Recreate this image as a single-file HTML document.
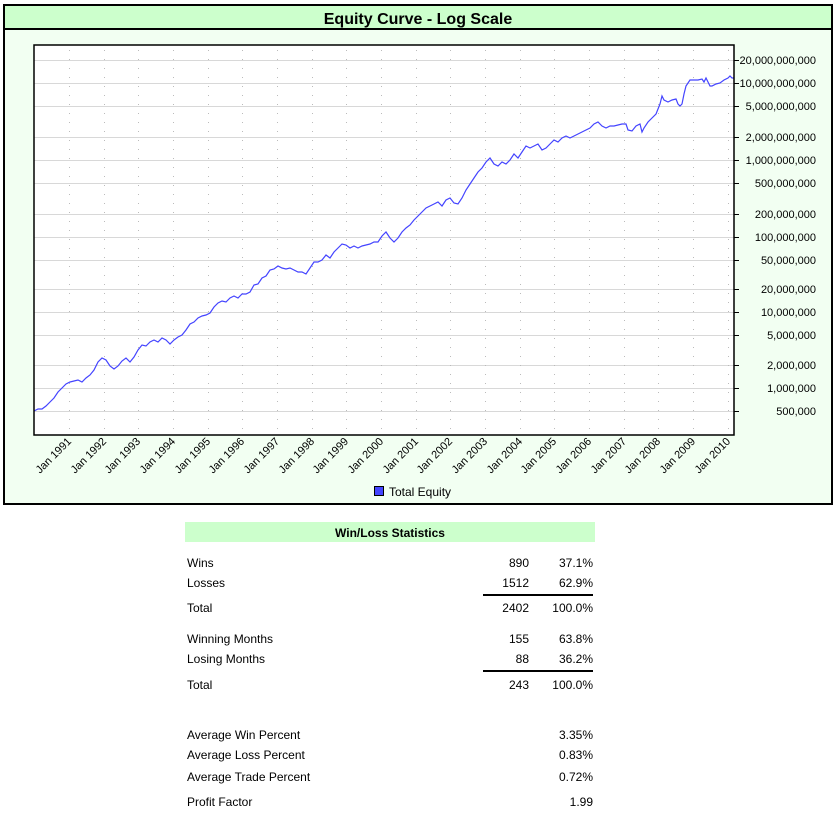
<!DOCTYPE html>
<html><head><meta charset="utf-8"><style>
body{margin:0;background:#fff;width:837px;height:824px;overflow:hidden;font-family:"Liberation Sans",Arial,sans-serif;}
svg text{font-family:"Liberation Sans",Arial,sans-serif;}
</style></head><body>
<svg width="837" height="824" xmlns="http://www.w3.org/2000/svg">
<rect x="4" y="5" width="828" height="499" fill="#f2fff2" stroke="#000" stroke-width="2"/>
<rect x="5" y="6" width="826" height="22" fill="#ccffcc"/>
<line x1="4" y1="29" x2="832" y2="29" stroke="#000" stroke-width="2"/>
<text x="418" y="24" font-size="16" font-weight="bold" text-anchor="middle">Equity Curve - Log Scale</text>
<rect x="34" y="45" width="700" height="390" fill="#fff"/>
<g stroke="#d8d8d8" stroke-width="1">
<line x1="34" x2="734" y1="60.5" y2="60.5"/><line x1="34" x2="734" y1="83.5" y2="83.5"/><line x1="34" x2="734" y1="106.5" y2="106.5"/>
<line x1="34" x2="734" y1="137.5" y2="137.5"/><line x1="34" x2="734" y1="160.5" y2="160.5"/><line x1="34" x2="734" y1="183.5" y2="183.5"/>
<line x1="34" x2="734" y1="214.5" y2="214.5"/><line x1="34" x2="734" y1="237.5" y2="237.5"/><line x1="34" x2="734" y1="260.5" y2="260.5"/>
<line x1="34" x2="734" y1="289.5" y2="289.5"/><line x1="34" x2="734" y1="312.5" y2="312.5"/><line x1="34" x2="734" y1="335.5" y2="335.5"/>
<line x1="34" x2="734" y1="365.5" y2="365.5"/><line x1="34" x2="734" y1="388.5" y2="388.5"/><line x1="34" x2="734" y1="411.5" y2="411.5"/>
</g>
<g stroke="#bbb" stroke-width="1" stroke-dasharray="1,8">
<line x1="69.5" x2="69.5" y1="50" y2="435"/><line x1="104.5" x2="104.5" y1="50" y2="435"/><line x1="138.5" x2="138.5" y1="50" y2="435"/>
<line x1="173.5" x2="173.5" y1="50" y2="435"/><line x1="208.5" x2="208.5" y1="50" y2="435"/><line x1="242.5" x2="242.5" y1="50" y2="435"/>
<line x1="277.5" x2="277.5" y1="50" y2="435"/><line x1="312.5" x2="312.5" y1="50" y2="435"/><line x1="346.5" x2="346.5" y1="50" y2="435"/>
<line x1="381.5" x2="381.5" y1="50" y2="435"/><line x1="416.5" x2="416.5" y1="50" y2="435"/><line x1="450.5" x2="450.5" y1="50" y2="435"/>
<line x1="485.5" x2="485.5" y1="50" y2="435"/><line x1="520.5" x2="520.5" y1="50" y2="435"/><line x1="554.5" x2="554.5" y1="50" y2="435"/>
<line x1="589.5" x2="589.5" y1="50" y2="435"/><line x1="624.5" x2="624.5" y1="50" y2="435"/><line x1="658.5" x2="658.5" y1="50" y2="435"/>
<line x1="693.5" x2="693.5" y1="50" y2="435"/><line x1="728.5" x2="728.5" y1="50" y2="435"/>
</g>
<polyline fill="none" stroke="#4444ff" stroke-width="1.2" points="34,411 38,409 42,409 46,406 50,402 54,398 58,392 62,388 66,384 70,382 74,381 78,380 82,382 86,378 90,375 94,370 98,362 102,358 106,360 110,366 114,369 118,366 122,361 126,358 130,362 134,357 138,350 142,345 146,346 150,342 154,340 158,342 162,338 166,340 170,344 174,340 178,337 182,335 186,330 190,324 194,322 198,318 202,316 206,315 210,313 214,307 218,303 222,301 226,302 230,298 234,296 238,298 242,294 246,294 250,292 254,285 258,284 262,278 266,276 270,270 274,269 278,266 282,268 286,269 290,268 294,270 298,272 302,272 306,274 310,268 314,262 318,262 322,260 326,255 330,258 334,252 338,248 342,244 346,245 350,248 354,246 358,248 362,246 366,245 370,244 374,242 378,242 382,236 386,232 390,238 394,242 398,238 402,232 406,228 410,225 414,220 418,216 422,212 426,208 430,206 434,204 438,202 442,206 446,200 450,198 454,203 458,204 462,198 466,190 470,184 474,178 478,172 482,168 486,162 490,158 494,164 498,166 502,162 506,164 510,160 514,154 518,158 522,152 526,146 530,148 534,146 538,144 542,150 546,148 550,144 554,140 558,142 562,138 566,136 570,138 574,136 578,134 582,132 586,130 590,128 594,124 598,122 602,126 606,128 610,126 614,126 618,125 622,124 626,124 628,130 632,131 636,126 640,124 642,132 644,128 648,122 652,118 656,114 660,104 662,96 664,100 668,102 672,100 676,99 678,104 680,106 682,104 684,94 686,86 690,80 694,80 698,80 702,79 704,82 706,78 708,82 710,86 712,86 716,84 720,83 724,80 728,78 730,76 732,78 734,78"/>
<rect x="34" y="45" width="700" height="390" fill="none" stroke="#000" stroke-width="1.5"/>
<g stroke="#000" stroke-width="1">
<line x1="734" x2="739" y1="60.5" y2="60.5"/><line x1="734" x2="739" y1="83.5" y2="83.5"/><line x1="734" x2="739" y1="106.5" y2="106.5"/>
<line x1="734" x2="739" y1="137.5" y2="137.5"/><line x1="734" x2="739" y1="160.5" y2="160.5"/><line x1="734" x2="739" y1="183.5" y2="183.5"/>
<line x1="734" x2="739" y1="214.5" y2="214.5"/><line x1="734" x2="739" y1="237.5" y2="237.5"/><line x1="734" x2="739" y1="260.5" y2="260.5"/>
<line x1="734" x2="739" y1="289.5" y2="289.5"/><line x1="734" x2="739" y1="312.5" y2="312.5"/><line x1="734" x2="739" y1="335.5" y2="335.5"/>
<line x1="734" x2="739" y1="365.5" y2="365.5"/><line x1="734" x2="739" y1="388.5" y2="388.5"/><line x1="734" x2="739" y1="411.5" y2="411.5"/>
</g>
<g font-size="11" text-anchor="end" fill="#000">
<text x="816" y="64">20,000,000,000</text><text x="816" y="87">10,000,000,000</text><text x="816" y="110">5,000,000,000</text>
<text x="816" y="141">2,000,000,000</text><text x="816" y="164">1,000,000,000</text><text x="816" y="187">500,000,000</text>
<text x="816" y="218">200,000,000</text><text x="816" y="241">100,000,000</text><text x="816" y="264">50,000,000</text>
<text x="816" y="293">20,000,000</text><text x="816" y="316">10,000,000</text><text x="816" y="339">5,000,000</text>
<text x="816" y="369">2,000,000</text><text x="816" y="392">1,000,000</text><text x="816" y="415">500,000</text>
</g>
<g font-size="11" text-anchor="end" fill="#000">
<text transform="translate(72,442) rotate(-45)">Jan 1991</text><text transform="translate(107,442) rotate(-45)">Jan 1992</text>
<text transform="translate(141,442) rotate(-45)">Jan 1993</text><text transform="translate(176,442) rotate(-45)">Jan 1994</text>
<text transform="translate(211,442) rotate(-45)">Jan 1995</text><text transform="translate(245,442) rotate(-45)">Jan 1996</text>
<text transform="translate(280,442) rotate(-45)">Jan 1997</text><text transform="translate(315,442) rotate(-45)">Jan 1998</text>
<text transform="translate(349,442) rotate(-45)">Jan 1999</text><text transform="translate(384,442) rotate(-45)">Jan 2000</text>
<text transform="translate(419,442) rotate(-45)">Jan 2001</text><text transform="translate(453,442) rotate(-45)">Jan 2002</text>
<text transform="translate(488,442) rotate(-45)">Jan 2003</text><text transform="translate(523,442) rotate(-45)">Jan 2004</text>
<text transform="translate(557,442) rotate(-45)">Jan 2005</text><text transform="translate(592,442) rotate(-45)">Jan 2006</text>
<text transform="translate(627,442) rotate(-45)">Jan 2007</text><text transform="translate(661,442) rotate(-45)">Jan 2008</text>
<text transform="translate(696,442) rotate(-45)">Jan 2009</text><text transform="translate(731,442) rotate(-45)">Jan 2010</text>
</g>
<rect x="374.5" y="486.5" width="9" height="9" fill="#4444ff" stroke="#000"/>
<text x="389" y="496" font-size="12">Total Equity</text>

<rect x="185" y="522" width="410" height="20" fill="#ccffcc"/>
<text x="390" y="537" font-size="12" font-weight="bold" text-anchor="middle">Win/Loss Statistics</text>
<g font-size="12" fill="#000">
<text x="187" y="567">Wins</text><text x="187" y="587">Losses</text><text x="187" y="612">Total</text>
<text x="187" y="643">Winning Months</text><text x="187" y="663">Losing Months</text><text x="187" y="689">Total</text>
<text x="187" y="739">Average Win Percent</text><text x="187" y="759">Average Loss Percent</text>
<text x="187" y="781">Average Trade Percent</text><text x="187" y="806">Profit Factor</text>
</g>
<g font-size="12" fill="#000" text-anchor="end">
<text x="529" y="567">890</text><text x="593" y="567">37.1%</text>
<text x="529" y="587">1512</text><text x="593" y="587">62.9%</text>
<text x="529" y="612">2402</text><text x="593" y="612">100.0%</text>
<text x="529" y="643">155</text><text x="593" y="643">63.8%</text>
<text x="529" y="663">88</text><text x="593" y="663">36.2%</text>
<text x="529" y="689">243</text><text x="593" y="689">100.0%</text>
<text x="593" y="739">3.35%</text><text x="593" y="759">0.83%</text>
<text x="593" y="781">0.72%</text><text x="593" y="806">1.99</text>
</g>
<line x1="483" x2="593" y1="595" y2="595" stroke="#000" stroke-width="2"/>
<line x1="483" x2="593" y1="671" y2="671" stroke="#000" stroke-width="2"/>
</svg>
</body></html>
